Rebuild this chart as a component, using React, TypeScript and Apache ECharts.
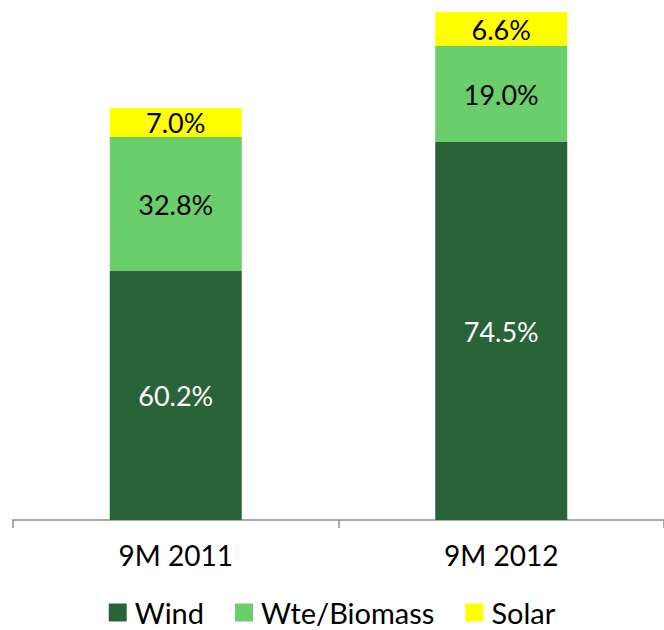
import React, { useEffect, useRef } from "react";
import * as echarts from "echarts";

const categories = ["9M 2011", "9M 2012"];
const seriesNames = ["Wind", "Wte/Biomass", "Solar"];
// relative output volumes (arbitrary units)
const windValues = [249, 378];
const biomassValues = [134, 96];
const solarValues = [29, 34];
const windLabels = ["60.2%", "74.5%"];
const biomassLabels = ["32.8%", "19.0%"];
const solarLabels = ["7.0%", "6.6%"];

const FONT = "Lato, 'Noto Sans', sans-serif";

export default function App() {
  const ref = useRef<HTMLDivElement>(null);
  useEffect(() => {
    if (!ref.current) return;
    const chart = echarts.init(ref.current, undefined, { renderer: "svg" });
    const mk = (name: string, vals: number[], labels: string[], color: string, labelColor: string) => ({
      name,
      type: "bar",
      stack: "total",
      barWidth: 132,
      data: vals,
      itemStyle: { color },
      label: {
        show: true,
        position: "inside",
        color: labelColor,
        fontSize: 27,
        fontFamily: FONT,
        formatter: (p: any) => labels[p.dataIndex],
      },
    });
    chart.setOption({
      animation: false,
      grid: { left: 13, right: -5, top: 0, height: 520 },
      xAxis: {
        type: "category",
        data: categories,
        axisLine: { lineStyle: { color: "#8c8c8c", width: 1.5 } },
        axisTick: { show: true, length: 8, lineStyle: { color: "#8c8c8c", width: 1.5 } },
        axisLabel: { color: "#000", fontSize: 28, fontFamily: FONT, margin: 21 },
      },
      yAxis: { type: "value", min: 0, max: 520, show: false, splitLine: { show: false } },
      legend: {
        top: 598,
        left: "center",
        padding: 0,
        data: seriesNames,
        icon: "rect",
        itemWidth: 18,
        itemHeight: 18,
        itemGap: 31,
        textStyle: { fontSize: 29, fontFamily: FONT, color: "#000", padding: [0, 0, 0, 3] },
      },
      series: [
        mk(seriesNames[0], windValues, windLabels, "#2B6338", "#ffffff"),
        mk(seriesNames[1], biomassValues, biomassLabels, "#69CE6B", "#000000"),
        mk(seriesNames[2], solarValues, solarLabels, "#FFFF00", "#000000"),
      ],
    });
    return () => chart.dispose();
  }, []);
  return (
    <div
      ref={ref}
      style={{ position: "fixed", left: 0, top: 0, width: 664, height: 630, background: "#fff" }}
    />
  );
}
